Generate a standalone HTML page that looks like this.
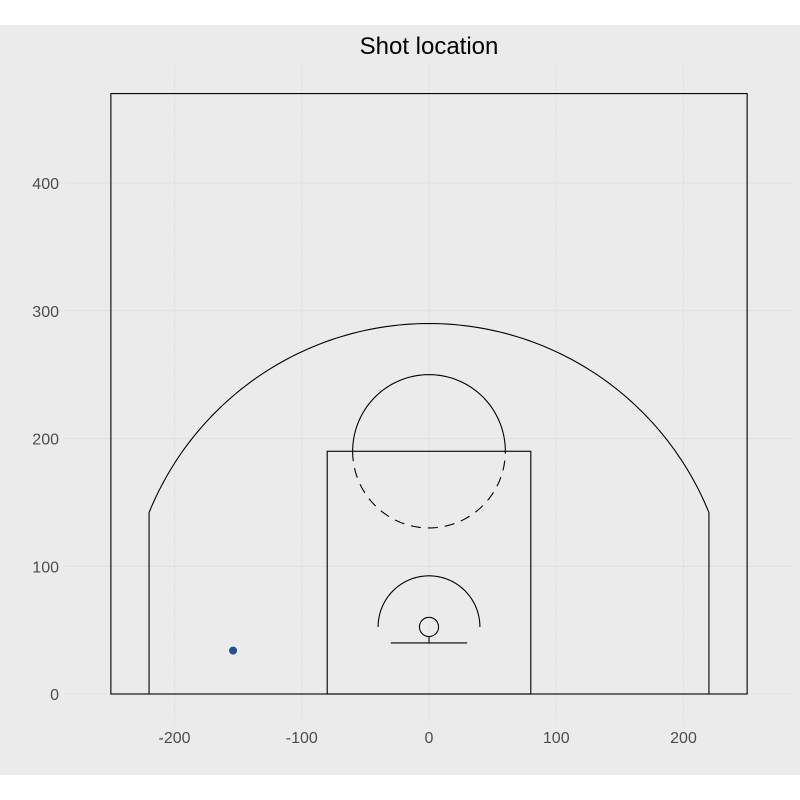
<!DOCTYPE html>
<html><head><meta charset="utf-8"><style>body{margin:0;background:#fff}svg{display:block;font-family:"Liberation Sans",sans-serif}</style></head>
<body>
<svg id="c" width="800" height="800">
<rect x="0" y="25" width="800" height="750" fill="#EBEBEB"/>
<text x="429" y="54" text-anchor="middle" font-size="24" fill="#000">Shot location</text>
<g id="grid"></g><g id="court" fill="none" stroke="#000" stroke-width="1.1"></g><g id="pts"></g><g id="ticks"></g>
</svg>
<script>
const xTicks=[-200,-100,0,100,200];
const yTicks=[0,100,200,300,400];
const shotX=[-154];
const shotY=[34];
const X=v=>429+v*1.2725, Y=v=>694-v*1.2775;
const NS="http://www.w3.org/2000/svg";
function mk(p,t,a){const e=document.createElementNS(NS,t);for(const k in a)e.setAttribute(k,a[k]);p.appendChild(e);return e;}
const g=document.getElementById('grid'),tk=document.getElementById('ticks');
xTicks.forEach(v=>{const l=mk(g,'line',{x1:X(v),x2:X(v),y1:65,y2:723,stroke:'#dcdcdc','stroke-width':0.8,'stroke-dasharray':'2 1'});


const t=mk(tk,'text',{x:X(v),y:743,'text-anchor':'middle','font-size':16,fill:'#4d4d4d'});t.textContent=v;

});
yTicks.forEach(v=>{const l=mk(g,'line',{x1:65,x2:793,y1:Y(v),y2:Y(v),stroke:'#dcdcdc','stroke-width':0.8});


const t=mk(tk,'text',{x:59,y:Y(v)+6,'text-anchor':'end','font-size':16,fill:'#4d4d4d'});t.textContent=v;

});
const c=document.getElementById('court');
function arcPath(cx,cy,r,a0,a1){let d='';for(let i=0;i<=120;i++){const a=a0+(a1-a0)*i/120;d+=(i?'L':'M')+X(cx+r*Math.cos(a))+' '+Y(cy+r*Math.sin(a));}return d;}
function add(t,a,name){const e=mk(c,t,a);return e;}
add('rect',{x:X(-250),y:Y(470),width:X(250)-X(-250),height:Y(0)-Y(470)},'court-outline');
add('rect',{x:X(-80),y:Y(190),width:X(80)-X(-80),height:Y(0)-Y(190)},'key');
const a3=Math.acos(220/237.5), y3=52.5+237.5*Math.sin(a3);
add('path',{d:'M'+X(-220)+' '+Y(0)+'L'+X(-220)+' '+Y(y3)+arcPath(0,52.5,237.5,Math.PI-a3,a3).replace(/^M/,'L')+'L'+X(220)+' '+Y(0)},'three-point-line');
add('path',{d:arcPath(0,190,60,0,Math.PI)},'free-throw-circle-top');
add('path',{d:arcPath(0,190,60,Math.PI,2*Math.PI),'stroke-dasharray':'10 7'},'free-throw-circle-bottom');
add('path',{d:arcPath(0,52.5,40,0,Math.PI)},'restricted-area');
add('path',{d:arcPath(0,52.5,7.5,0,2*Math.PI)},'hoop');
add('line',{x1:X(0),x2:X(0),y1:Y(45),y2:Y(40)},'hoop-connector');
add('line',{x1:X(-30),x2:X(30),y1:Y(40),y2:Y(40)},'backboard');
const p=document.getElementById('pts');
shotX.forEach((v,i)=>{const e=mk(p,'circle',{cx:X(v),cy:Y(shotY[i]),r:4,fill:'#1f4e96'});

});
</script>
</body></html>
